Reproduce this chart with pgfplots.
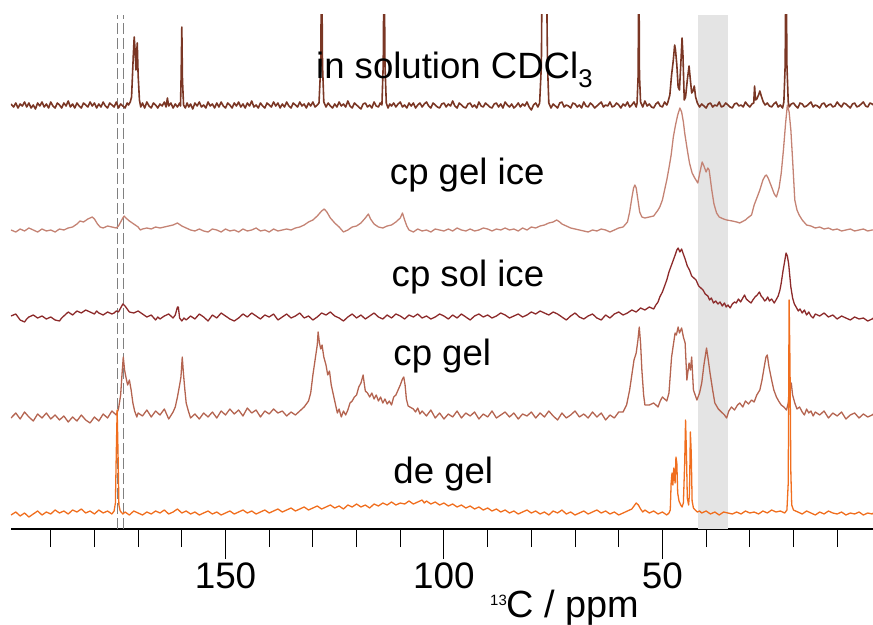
\documentclass[border=0pt]{standalone}
\usepackage{fontspec}
\setmainfont{Liberation Sans}
\usepackage{pgfplots}
\usepackage{pgfplotstable}
\pgfplotsset{compat=1.18}
\usetikzlibrary{calc}
\definecolor{solcol}{HTML}{7A3624}
\definecolor{gelicecol}{HTML}{C48374}
\definecolor{solicecol}{HTML}{8C2A2A}
\definecolor{gelcol}{HTML}{B46450}
\definecolor{degelcol}{HTML}{F06E1E}
\definecolor{bandcol}{HTML}{E4E4E4}
\newcommand\bigfont{\fontsize{36.7}{40}\selectfont}

% spectra: ppm, intensity in px above each baseline
\pgfplotstableread[row sep=\\]{
x y\\ 199.1 1\\ 198.5 -2\\ 198 2\\ 197.5 -3\\ 197 1\\ 196.5 -1\\ 196 3\\ 195.5 -2\\ 195 2\\ 194.5 -3\\ 194 0\\ 193.5 -4\\ 193 2\\ 192.5 -1\\ 192 3\\ 191.5 -2\\ 191 1\\ 190.5 -3\\ 190 3\\ 189.5 -1\\ 189 -3\\ 188.5 2\\ 188 0\\
187.5 -3\\ 187 2\\ 186.5 -1\\ 186 4\\ 185.5 -2\\ 185 1\\ 184.5 -3\\ 184 2\\ 183.5 -1\\ 183 -3\\ 182.5 2\\ 182 0\\ 181.5 -2\\ 181 3\\ 180.5 -1\\ 180 2\\ 179.5 -3\\ 179 1\\ 178.5 -2\\ 178 3\\ 177.5 -1\\ 177 -3\\ 176.5 2\\ 176 0\\
175.5 -2\\ 175 3\\ 174.5 -3\\ 174 1\\ 173.5 -1\\ 173 -3\\ 172.5 2\\ 172.2 0\\ 171.8 3\\ 171.5 8\\ 171.1 50\\ 170.9 68\\ 170.7 55\\ 170.5 35\\ 170.35 50\\ 170.2 62\\ 170.0 30\\ 169.7 5\\ 169.4 -2\\ 169 2\\ 168.5 -3\\ 168 3\\
167.5 -1\\ 167 -3\\ 166.5 2\\ 166 0\\ 165.5 -3\\ 165 1\\ 164.5 -1\\ 164 3\\ 163.6 -2\\ 163.3 7\\ 163 -1\\ 162.5 2\\ 162 -3\\ 161.5 1\\ 161 -2\\ 160.5 2\\ 160.3 -1\\ 160.15 30\\ 160 78\\ 159.85 25\\ 159.6 0\\ 159.2 -3\\
158.8 2\\ 158.4 -2\\ 158 1\\ 157.5 -4\\ 157 2\\ 156.5 -1\\ 156 3\\ 155.5 -2\\ 155 0\\ 154.5 -3\\ 154 3\\ 153.5 -1\\ 153 1\\ 152.5 -3\\ 152 2\\ 151.5 -2\\ 151 3\\ 150.5 -1\\ 150 -3\\ 149.5 2\\ 149 0\\ 148.5 -3\\ 148 2\\
147.5 -1\\ 147 3\\ 146.5 -2\\ 146 1\\ 145.5 -3\\ 145 2\\ 144.5 -1\\ 144 4\\ 143.5 -2\\ 143 0\\ 142.5 -3\\ 142 2\\ 141.5 -1\\ 141 -3\\ 140.5 2\\ 140 0\\ 139.5 -2\\ 139 3\\ 138.5 -1\\ 138 2\\ 137.5 -3\\ 137 1\\ 136.5 -2\\
136 3\\ 135.5 -1\\ 135 -3\\ 134.5 2\\ 134 0\\ 133.5 -2\\ 133 3\\ 132.5 -1\\ 132 1\\ 131.5 -3\\ 131 2\\ 130.5 -1\\ 130 3\\ 129.5 -2\\ 129 0\\ 128.6 2\\ 128.2 40\\ 128 160\\ 127.8 40\\ 127.5 3\\ 127 -2\\ 126.5 2\\ 126 -1\\
125.5 -3\\ 125 1\\ 124.5 -2\\ 124 3\\ 123.5 -1\\ 123 1\\ 122.5 -2\\ 122 4\\ 121.5 -1\\ 121 -3\\ 120.5 2\\ 120 0\\ 119.5 -2\\ 119 -4\\ 118.5 1\\ 118 2\\ 117.5 -2\\ 117 0\\ 116.5 -3\\ 116 3\\ 115.5 -1\\ 115 -2\\ 114.6 2\\
114.2 0\\ 113.9 40\\ 113.7 160\\ 113.5 40\\ 113.2 2\\ 112.8 -3\\ 112.4 1\\ 112 -1\\ 111.5 2\\ 111 -2\\ 110.5 1\\ 110 3\\ 109.5 -2\\ 109 0\\ 108.5 -3\\ 108 2\\ 107.5 -1\\ 107 2\\ 106.5 -3\\ 106 0\\ 105.5 2\\ 105 -2\\
104.5 1\\ 104 3\\ 103.5 -1\\ 103 -3\\ 102.5 2\\ 102 0\\ 101.5 -2\\ 101 -3\\ 100.5 1\\ 100 2\\ 99.5 -2\\ 99 1\\ 98.5 -1\\ 98 4\\ 97.5 -1\\ 97 -3\\ 96.5 2\\ 96 0\\ 95.5 -2\\ 95 -3\\ 94.5 1\\ 94 2\\ 93.5 -2\\ 93 0\\
92.5 -3\\ 92 3\\ 91.5 -1\\ 91 -2\\ 90.5 2\\ 90 0\\ 89.5 -2\\ 89 -3\\ 88.5 1\\ 88 2\\ 87.5 -2\\ 87 1\\ 86.5 -3\\ 86 3\\ 85.5 0\\ 85 -2\\ 84.5 1\\ 84 -3\\ 83.5 -1\\ 83 2\\ 82.5 -2\\ 82 1\\ 81.5 -1\\ 81 3\\ 80.5 -2\\
80 -5\\ 79.5 0\\ 79 2\\ 78.5 -2\\ 78.1 2\\ 77.7 40\\ 77.5 160\\ 77.2 110\\ 77.0 160\\ 76.8 110\\ 76.6 160\\ 76.3 40\\ 76 2\\ 75.5 -3\\ 75 1\\ 74.5 -1\\ 74 -3\\ 73.5 2\\ 73 3\\ 72.5 -2\\ 72 0\\ 71.5 -1\\ 71 -3\\
70.5 2\\ 70 1\\ 69.5 -2\\ 69 0\\ 68.5 -3\\ 68 3\\ 67.5 -1\\ 67 -2\\ 66.5 2\\ 66 0\\ 65.5 -3\\ 65 -1\\ 64.5 1\\ 64 3\\ 63.5 -2\\ 63 0\\ 62.5 -1\\ 62 3\\ 61.5 -2\\ 61 -1\\ 60.5 2\\ 60 0\\ 59.5 -3\\ 59 1\\ 58.5 -1\\ 58 3\\
57.5 -2\\ 57 0\\ 56.5 3\\ 56 -2\\ 55.8 2\\ 55.55 30\\ 55.4 160\\ 55.25 30\\ 55 3\\ 54.5 -2\\ 54 4\\ 53.5 -1\\ 53 1\\ 52.5 -2\\ 52 -3\\ 51.5 1\\ 51 3\\ 50.5 -1\\ 50 -2\\ 49.5 3\\ 49 0\\ 48.8 2\\ 48.3 10\\ 47.9 30\\
47.5 45\\ 47.2 60\\ 47.0 55\\ 46.7 40\\ 46.4 18\\ 46.1 15\\ 45.8 40\\ 45.5 67\\ 45.3 50\\ 45.0 5\\ 44.7 8\\ 44.3 25\\ 43.9 39\\ 43.6 25\\ 43.3 12\\ 43.0 14\\ 42.7 19\\ 42.4 8\\ 42 2\\ 41.5 -2\\ 41 1\\ 40.5 -1\\ 40 -3\\
39.5 1\\ 39 2\\ 38.5 -2\\ 38 0\\ 37.5 -1\\ 37 3\\ 36.5 -2\\ 36 -1\\ 35.5 2\\ 35 0\\ 34.5 -2\\ 34 -3\\ 33.5 1\\ 33 2\\ 32.5 -1\\ 32 0\\ 31.5 -2\\ 31 3\\ 30.5 0\\ 30 -2\\ 29.5 1\\ 29.1 2\\ 28.9 19\\ 28.7 5\\ 28.4 6\\
28.0 10\\ 27.7 14\\ 27.3 8\\ 26.9 3\\ 26.5 0\\ 26 2\\ 25.5 -1\\ 25 -2\\ 24.5 1\\ 24 3\\ 23.5 -2\\ 23 0\\ 22.5 -3\\ 22.2 3\\ 21.9 40\\ 21.7 160\\ 21.5 40\\ 21.2 3\\ 21 -2\\ 20.5 1\\ 20 2\\ 19.5 -1\\ 19 -3\\ 18.5 2\\ 18 1\\
17.5 -2\\ 17 -1\\ 16.5 1\\ 16 3\\ 15.5 -2\\ 15 0\\ 14.5 -1\\ 14 -3\\ 13.5 1\\ 13 2\\ 12.5 -2\\ 12 0\\ 11.5 1\\ 11 -2\\ 10.5 -1\\ 10 3\\ 9.5 0\\ 9 -2\\ 8.5 2\\ 8 1\\ 7.5 -1\\ 7 -3\\ 6.5 1\\ 6 2\\ 5.5 -2\\ 5 -1\\ 4.5 1\\
4 3\\ 3.5 -1\\ 3 -2\\ 2.5 2\\ 2 1\\ 1.8 0\\
}\tsol

\pgfplotstableread[row sep=\\]{
x y\\ 199.1 0\\ 198 -2\\ 197 1\\ 196 -1\\ 195 2\\ 194 0\\ 193 -2\\ 192 1\\ 191 -1\\ 190 0\\ 189 -2\\ 188 1\\ 187 0\\ 186 2\\ 185 3\\ 184 6\\ 183.3 9\\ 182.5 8\\ 181.5 11\\ 180.5 13\\ 180 11\\ 179.3 6\\ 178.7 3\\ 178 2\\ 177 4\\ 176 3\\ 175 2\\
174.5 4\\ 174 8\\ 173.5 12\\ 173.2 14\\ 172.8 12\\ 172 9\\ 171 6\\ 170 3\\ 169.5 0\\ 169 1\\ 168 2\\ 167 1\\ 166 3\\ 165 2\\ 164 3\\ 163 4\\ 162 5\\ 161 7\\ 160 4\\ 159 2\\ 158 0\\ 157 -1\\ 156 1\\ 155 -1\\ 154 -2\\ 153 1\\ 152 0\\ 151 -2\\ 150 1\\
149 -1\\ 148 0\\ 147 -2\\ 146 1\\ 145 -1\\ 144 0\\ 143 2\\ 142 -1\\ 141 0\\ 140 -2\\ 139 1\\ 138 -1\\ 137 0\\ 136 1\\ 135 0\\ 134 2\\ 133 3\\ 132 5\\ 131 8\\ 130 10\\ 129 14\\ 128 19\\ 127.4 21\\ 126.8 18\\ 126 12\\ 125 7\\ 124 3\\ 123 -2\\
122 0\\ 121 3\\ 120 4\\ 119 7\\ 118 12\\ 117.3 16\\ 116.8 11\\ 116 6\\ 115 3\\ 114 2\\ 113 4\\ 112 5\\ 111 8\\ 110 12\\ 109.5 17\\ 109 10\\ 108.5 4\\ 108 0\\ 107 -2\\ 106 1\\ 105 -1\\ 104 0\\ 103 -2\\ 102 1\\ 101 0\\ 100 -1\\ 99 1\\ 98 -1\\
97 2\\ 96 0\\ 95 -1\\ 94 1\\ 93 -1\\ 92 0\\ 91 2\\ 90 1\\ 89 -1\\ 88 1\\ 87 0\\ 86 2\\ 85 0\\ 84 1\\ 83 -1\\ 82 2\\ 81 0\\ 80 3\\ 79 2\\ 78 4\\ 77 5\\ 76 7\\ 75 8\\ 74.2 10\\ 73.5 8\\ 73 6\\ 72 4\\ 71 2\\ 70 1\\ 69 0\\ 68 -1\\ 67 -2\\ 66 0\\
65 -1\\ 64 1\\ 63 0\\ 62 -2\\ 61 0\\ 60 2\\ 59 3\\ 58 8\\ 57.5 18\\ 57 32\\ 56.6 42\\ 56.3 45\\ 56.0 42\\ 55.6 30\\ 55.2 18\\ 54.7 13\\ 54 12\\ 53 13\\ 52 14\\ 51.5 17\\ 51 20\\ 50.6 23\\ 50 30\\ 49.5 40\\ 49 50\\ 48.5 62\\ 48 75\\
47.5 93\\ 47 105\\ 46.5 115\\ 46.0 122\\ 45.6 118\\ 45.2 108\\ 44.9 97\\ 44.3 80\\ 43.8 67\\ 43.2 57\\ 42.6 52\\ 41.9 47\\ 41.4 58\\ 40.9 68\\ 40.5 64\\ 40.0 58\\ 39.6 62\\ 39.3 60\\ 38.7 40\\ 38.2 26\\ 37.6 17\\ 37 13\\ 36 11\\ 35.3 10\\
34 9\\ 33 8\\ 32.3 7\\ 31 10\\ 30.5 12\\ 29.6 15\\ 29 25\\ 28.3 33\\ 27.7 40\\ 27 50\\ 26.5 54\\ 26.2 55\\ 25.8 52\\ 25.0 43\\ 24.4 36\\ 23.9 33\\ 23.3 42\\ 22.8 57\\ 22.3 80\\ 21.8 107\\ 21.4 125\\ 21.0 118\\ 20.6 100\\ 20.2 70\\ 19.7 30\\
19.2 20\\ 18.7 15\\ 18 10\\ 17 5\\ 16 4\\ 15 2\\ 14 3\\ 13 1\\ 12 2\\ 11 0\\ 10 1\\ 9 -1\\ 8 0\\ 7 1\\ 6 -1\\ 5 0\\ 4 1\\ 3 -1\\ 2 0\\ 1.8 0\\
}\tgelice

\pgfplotstableread[row sep=\\]{
x y\\ 199.1 0\\ 198 2\\ 197.5 -1\\ 197 -4\\ 196 -6\\ 195.5 -3\\ 195 -1\\ 194 1\\ 193 -2\\ 192 0\\ 191 -3\\ 190 -1\\ 189 -4\\ 188 -5\\ 187.5 -2\\ 186.5 2\\ 186 4\\ 185 1\\ 184 5\\ 183 3\\ 182 6\\ 181 4\\ 180 2\\ 179.5 5\\ 179 3\\ 178 1\\
177 4\\ 176 2\\ 175.5 3\\ 175 5\\ 174.5 4\\ 174 8\\ 173.5 12\\ 173 10\\ 172.5 7\\ 172 4\\ 171 3\\ 170 5\\ 169 2\\ 168 -1\\ 167 1\\ 166 -4\\ 165.5 -1\\ 165 -3\\ 164 0\\ 163 2\\ 162 -2\\ 161.5 1\\ 161 9\\ 160.8 9\\ 160.5 -2\\ 160 -5\\
159.5 -2\\ 159 -4\\ 158 0\\ 157 -3\\ 156 2\\ 155 -1\\ 154 -5\\ 153.5 -2\\ 153 1\\ 152 -2\\ 151 3\\ 150 0\\ 149 -3\\ 148 -5\\ 147 -2\\ 146 2\\ 145 -1\\ 144 3\\ 143 0\\ 142 -3\\ 141 1\\ 140 -1\\ 139 2\\ 138 -4\\ 137 -1\\ 136 2\\ 135 -2\\
134 0\\ 133 3\\ 132 -2\\ 131 0\\ 130 -4\\ 129 -1\\ 128 3\\ 127 1\\ 126 4\\ 125 0\\ 124 -2\\ 123 -5\\ 122 -1\\ 121 2\\ 120 -2\\ 119 1\\ 118 -3\\ 117 0\\ 116 3\\ 115 -1\\ 114 -3\\ 113 1\\ 112 -2\\ 111 2\\ 110 0\\ 109 -3\\ 108 1\\
107 -1\\ 106 2\\ 105 -2\\ 104 0\\ 103 -3\\ 102 -1\\ 101 2\\ 100 0\\ 99 -3\\ 98 1\\ 97 -2\\ 96 2\\ 95 -1\\ 94 -4\\ 93 0\\ 92 2\\ 91 -1\\ 90 1\\ 89 -2\\ 88 0\\ 87 3\\ 86 1\\ 85 -2\\ 84 0\\ 83 2\\ 82 -1\\ 81 1\\ 80 4\\ 79 2\\ 78 5\\
77 3\\ 76 1\\ 75 4\\ 74 2\\ 73 -1\\ 72 -4\\ 71 0\\ 70 3\\ 69 -1\\ 68 -3\\ 67 0\\ 66 2\\ 65 -2\\ 64 -4\\ 63 1\\ 62 -2\\ 61 2\\ 60 4\\ 59 1\\ 58 3\\ 57 6\\ 56 4\\ 55 8\\ 54 6\\ 53 9\\ 52 7\\ 51.5 11\\ 51 14\\ 50.6 19\\ 50 24\\
49.5 30\\ 49 36\\ 48.5 44\\ 48 50\\ 47.5 56\\ 47 62\\ 46.7 66\\ 46.4 68\\ 46 64\\ 45.6 67\\ 45.3 63\\ 44.8 57\\ 44.3 50\\ 43.8 46\\ 43.3 40\\ 42.8 38\\ 42.3 36\\ 41.7 30\\ 41.2 28\\ 40.7 26\\ 40.2 22\\ 39.6 20\\ 39.2 16\\ 38.8 18\\
38.3 13\\ 37.8 15\\ 37.3 12\\ 36.8 14\\ 36.3 10\\ 35.8 13\\ 35.4 9\\ 35 11\\ 34.5 8\\ 34 12\\ 33.5 14\\ 33.1 13\\ 32.6 17\\ 32.1 14\\ 31.6 18\\ 31.2 21\\ 30.8 17\\ 30.3 15\\ 29.7 13\\ 29.3 16\\ 28.8 19\\ 28.3 21\\ 27.8 24\\ 27.4 20\\
27 18\\ 26.6 15\\ 26.3 16\\ 25.9 19\\ 25.5 15\\ 25 17\\ 24.4 13\\ 24 16\\ 23.5 20\\ 23.1 26\\ 22.8 33\\ 22.4 45\\ 22.0 55\\ 21.7 63\\ 21.4 60\\ 21.1 52\\ 20.8 38\\ 20.6 29\\ 20.2 18\\ 19.8 12\\ 19.4 9\\ 18.9 5\\ 18.5 7\\ 18 3\\
17.5 6\\ 17 1\\ 16.5 4\\ 16 0\\ 15.5 -2\\ 15 2\\ 14 0\\ 13 3\\ 12 -1\\ 11 1\\ 10 -3\\ 9 0\\ 8 -2\\ 7 -4\\ 6 -1\\ 5 -3\\ 4 -2\\ 3 -5\\ 2 -3\\ 1.8 -2\\
}\tsolice

\pgfplotstableread[row sep=\\]{
x y\\ 199.1 -3\\ 198 2\\ 197 -4\\ 196 3\\ 195 -2\\ 194 -6\\ 193 1\\ 192 -3\\ 191 2\\ 190 -4\\ 189 0\\ 188 -5\\ 187 -1\\ 186 -7\\ 185 -2\\ 184 -6\\ 183 0\\ 182 -5\\ 181 -8\\ 180 -2\\ 179 -6\\ 178 1\\ 177 -3\\ 176 4\\ 175 0\\
174.5 6\\ 174 20\\ 173.7 40\\ 173.4 58\\ 173.1 45\\ 172.8 38\\ 172.4 30\\ 172 35\\ 171.6 25\\ 171.2 12\\ 170.8 4\\ 170.3 -2\\ 170 2\\ 169 -1\\ 168 5\\ 167 -2\\ 166 4\\ 165 0\\ 164 6\\ 163 -4\\ 162 3\\ 161.5 8\\ 161 18\\ 160.5 30\\
160.2 38\\ 159.9 58\\ 159.6 40\\ 159.3 25\\ 159 12\\ 158.5 4\\ 158 -3\\ 157 1\\ 156 -4\\ 155 2\\ 154 -2\\ 153 3\\ 152 -3\\ 151 4\\ 150 0\\ 149 6\\ 148 1\\ 147 5\\ 146 -1\\ 145 7\\ 144 2\\ 143 5\\ 142 -2\\ 141 4\\ 140 1\\ 139 6\\ 138 2\\
137 4\\ 136 -1\\ 135 3\\ 134 0\\ 133 4\\ 132 8\\ 131 14\\ 130.5 22\\ 130 40\\ 129.5 55\\ 129 70\\ 128.8 83\\ 128.5 72\\ 128.2 66\\ 127.9 70\\ 127.5 58\\ 127 50\\ 126.6 40\\ 126.2 44\\ 125.8 30\\ 125.3 20\\ 124.8 10\\ 124.4 2\\ 124 6\\
123.5 -2\\ 123 4\\ 122.5 0\\ 122 5\\ 121.5 12\\ 121 14\\ 120.5 18\\ 120 20\\ 119.5 28\\ 119 32\\ 118.5 40\\ 118.2 30\\ 118 24\\ 117.5 22\\ 117 18\\ 116.5 22\\ 116 16\\ 115.5 20\\ 115 14\\ 114.5 18\\ 114 12\\ 113.5 16\\ 113 11\\
112.5 14\\ 112 10\\ 111.5 18\\ 111 20\\ 110.5 25\\ 110 30\\ 109.5 36\\ 109.2 38\\ 108.9 30\\ 108.6 16\\ 108.2 9\\ 107.8 8\\ 107 6\\ 106.5 3\\ 106 7\\ 105.5 1\\ 105 4\\ 104 -1\\ 103 5\\ 102 -3\\ 101 2\\ 100 -4\\ 99 1\\ 98 -2\\
97 4\\ 96 -3\\ 95 2\\ 94 -1\\ 93 3\\ 92 -4\\ 91 1\\ 90 -2\\ 89 4\\ 88 -3\\ 87 0\\ 86 3\\ 85 -2\\ 84 2\\ 83 -4\\ 82 1\\ 81 -1\\ 80 3\\ 79 -3\\ 78 2\\ 77 -2\\ 76 4\\ 75 -1\\ 74 -5\\ 73 2\\ 72 -3\\ 71 0\\ 70 4\\ 69 -2\\ 68 1\\
67 -3\\ 66 3\\ 65 -2\\ 64 2\\ 63 -5\\ 62 0\\ 61 -3\\ 60 3\\ 59 3\\ 58.2 10\\ 57.5 25\\ 57 40\\ 56.5 55\\ 56 62\\ 55.6 75\\ 55.3 88\\ 55 72\\ 54.7 45\\ 54.3 20\\ 54 10\\ 53 10\\ 52 12\\ 51 8\\ 50.5 14\\ 50 18\\ 49.5 16\\ 49 14\\
48.5 22\\ 48.2 40\\ 47.9 58\\ 47.5 70\\ 47.1 82\\ 46.8 80\\ 46.4 88\\ 46.1 82\\ 45.6 87\\ 45.2 78\\ 44.8 72\\ 44.4 35\\ 43.9 52\\ 43.6 45\\ 43.3 58\\ 42.9 25\\ 42.1 15\\ 41.5 22\\ 41 32\\ 40.5 50\\ 39.9 67\\ 39.5 55\\ 39.1 42\\
38.5 25\\ 38 12\\ 37.2 6\\ 36.5 3\\ 35.8 0\\ 35.3 -3\\ 34.8 4\\ 34.2 8\\ 33.5 5\\ 32.8 10\\ 32.3 12\\ 31.6 8\\ 31 14\\ 30.3 11\\ 29.6 15\\ 29 13\\ 28.4 20\\ 27.7 25\\ 27.2 35\\ 26.7 48\\ 26.3 58\\ 26 60\\ 25.6 48\\ 25 35\\
24.5 25\\ 23.9 18\\ 23.4 14\\ 22.8 10\\ 22.2 8\\ 21.6 5\\ 21.2 12\\ 20.8 25\\ 20.5 32\\ 20.2 20\\ 19.7 12\\ 19.2 6\\ 18.6 8\\ 18 3\\ 17.5 0\\ 17 6\\ 16.5 2\\ 16 4\\ 15.5 -1\\ 15 3\\ 14 0\\ 13 4\\ 12 -3\\ 11 2\\ 10 -1\\ 9 3\\
8 -4\\ 7 0\\ 6 2\\ 5 -3\\ 4 1\\ 3 -2\\ 2 0\\ 1.8 1\\
}\tgel

\pgfplotstableread[row sep=\\]{
x y\\ 199.1 -2\\ 198 1\\ 197 -3\\ 196 0\\ 195 -4\\ 194 -1\\ 193 2\\ 192 -2\\ 191 1\\ 190 -1\\ 189 3\\ 188 0\\ 187 2\\ 186 -1\\ 185 3\\ 184 1\\ 183 4\\ 182 0\\ 181 2\\ 180 -1\\ 179 3\\ 178 0\\ 177 2\\ 176 -1\\ 175.5 2\\
175.2 10\\ 175.0 60\\ 174.8 103\\ 174.6 60\\ 174.4 8\\ 174.1 2\\ 173.5 -1\\ 173 1\\ 172 -2\\ 171 2\\ 170 0\\ 169 -2\\ 168 1\\ 167 -1\\ 166 2\\ 165 0\\ 164 3\\ 163 -1\\ 162 1\\ 161 4\\ 160 0\\ 159 2\\ 158 -1\\ 157 1\\ 156 -2\\
155 0\\ 154 2\\ 153 -1\\ 152 1\\ 151 -2\\ 150 0\\ 149 2\\ 148 -1\\ 147 1\\ 146 3\\ 145 0\\ 144 2\\ 143 -1\\ 142 1\\ 141 3\\ 140 0\\ 139 2\\ 138 4\\ 137 1\\ 136 3\\ 135 5\\ 134 2\\ 133 4\\ 132 6\\ 131 3\\ 130 5\\ 129 7\\ 128 4\\
127 6\\ 126 8\\ 125 5\\ 124 7\\ 123 4\\ 122 8\\ 121 6\\ 120 9\\ 119 6\\ 118 8\\ 117 5\\ 116 9\\ 115 7\\ 114 10\\ 113 8\\ 112 11\\ 111 8\\ 110 10\\ 109 9\\ 108 12\\ 107 9\\ 106 11\\ 105 13\\ 104.5 10\\ 104 12\\ 103 9\\ 102 11\\
101 8\\ 100 10\\ 99 7\\ 98 9\\ 97 6\\ 96 8\\ 95 5\\ 94 7\\ 93 4\\ 92 6\\ 91 3\\ 90 5\\ 89 2\\ 88 4\\ 87 1\\ 86 3\\ 85 0\\ 84 2\\ 83 -1\\ 82 1\\ 81 3\\ 80 0\\ 79 2\\ 78 -1\\ 77 1\\ 76 -2\\ 75 2\\ 74 0\\ 73 3\\ 72 -1\\ 71 1\\
70 -2\\ 69 0\\ 68 2\\ 67 -1\\ 66 1\\ 65 3\\ 64 0\\ 63 2\\ 62 -1\\ 61 1\\ 60 -2\\ 59 0\\ 58 2\\ 57 4\\ 56.5 7\\ 56 10\\ 55.5 8\\ 55 4\\ 54.5 1\\ 54 3\\ 53 0\\ 52 2\\ 51 -1\\ 50 1\\ 49 -2\\ 48.5 0\\ 48.2 3\\ 48 30\\ 47.8 40\\
47.6 28\\ 47.4 45\\ 47.1 30\\ 46.9 56\\ 46.7 50\\ 46.5 20\\ 46.2 12\\ 45.8 8\\ 45.5 6\\ 45.2 10\\ 44.9 50\\ 44.7 93\\ 44.5 60\\ 44.3 15\\ 44 8\\ 43.8 20\\ 43.6 81\\ 43.4 60\\ 43.2 12\\ 42.9 5\\ 42.5 3\\ 42 1\\ 41.5 2\\ 41 0\\
40 2\\ 39 -1\\ 38 1\\ 37 -2\\ 36 1\\ 35 0\\ 34 -1\\ 33 1\\ 32 -1\\ 31 2\\ 30 0\\ 29 1\\ 28 -1\\ 27 2\\ 26 0\\ 25 3\\ 24 1\\ 23 2\\ 22 0\\ 21.5 3\\ 21.2 30\\ 21.0 213\\ 20.8 150\\ 20.6 40\\ 20.4 8\\ 20 3\\ 19 1\\ 18 -1\\
17 2\\ 16 0\\ 15 -2\\ 14 1\\ 13 -1\\ 12 2\\ 11 0\\ 10 -1\\ 9 1\\ 8 -2\\ 7 0\\ 6 -1\\ 5 1\\ 4 -2\\ 3 0\\ 2 -1\\ 1.8 0\\
}\tdegel

\begin{document}
\begin{tikzpicture}
\begin{axis}[
  scale only axis, width=862bp, height=514bp,
  x dir=reverse, xmin=1.8, xmax=199.1, ymin=0, ymax=514,
  axis x line*=bottom, axis y line=none, ytick=\empty,
  xtick={50,100,150},
  minor xtick={10,20,30,40,60,70,80,90,110,120,130,140,160,170,180,190},
  tick align=outside, major tick length=30bp, minor tick length=18bp,
  every tick/.style={black, line width=1bp},
  x axis line style={black, line width=1.8bp},
  xticklabel style={font=\fontsize{37}{40}\selectfont},
  /pgf/number format/assume math mode=true,
  clip mode=individual,
  every axis plot/.append style={line width=1.3bp, line join=round},
]
\addplot [draw=none, fill=bandcol] coordinates {(41.8,0) (41.8,514) (35.1,514) (35.1,0)} --cycle;
\addplot [black!50, line width=1.2bp, dash pattern=on 11bp off 4bp] coordinates {(174.7,0) (174.7,514)};
\addplot [black!50, line width=1.2bp, dash pattern=on 11bp off 4bp] coordinates {(173.3,0) (173.3,514)};

\addplot [solcol, line width=1.6bp] table [x=x, y expr=\thisrow{y}+424] {\tsol};
\addplot [gelicecol] table [x=x, y expr=\thisrow{y}+299] {\tgelice};
\addplot [solicecol] table [x=x, y expr=\thisrow{y}+213] {\tsolice};
\addplot [gelcol] table [x=x, y expr=\thisrow{y}+114] {\tgel};
\addplot [degelcol] table [x=x, y expr=\thisrow{y}+16] {\tdegel};

\node [anchor=base west, inner sep=0pt, font=\bigfont] at (axis cs:129.3,450.7) {in solution CDCl\textsubscript{3}};
\node [anchor=base west, inner sep=0pt, font=\bigfont] at (axis cs:112.4,344) {cp gel ice};
\node [anchor=base west, inner sep=0pt, font=\bigfont] at (axis cs:112.0,242) {cp sol ice};
\node [anchor=base west, inner sep=0pt, font=\bigfont] at (axis cs:111.6,163) {cp gel};
\node [anchor=base west, inner sep=0pt, font=\bigfont] at (axis cs:111.6,46) {de gel};
\end{axis}
\node [anchor=base west, inner sep=0pt, font=\fontsize{38}{40}\selectfont] at ($(current axis.south west)+(479bp,-88bp)$) {\raisebox{12bp}{\fontsize{15}{15}\selectfont 13}C / ppm};
\pgfresetboundingbox
\path [use as bounding box] ($(current axis.south west)+(-11bp,-96bp)$) rectangle ($(current axis.north east)+(0bp,15bp)$);
\end{tikzpicture}
\end{document}
